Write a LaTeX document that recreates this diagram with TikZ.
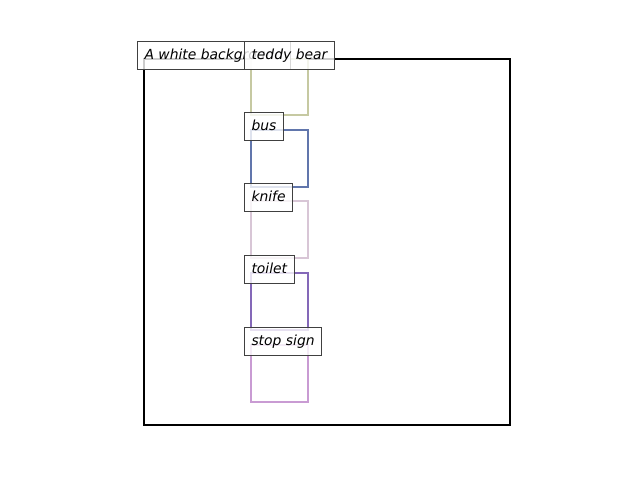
\documentclass[tikz,border=0pt]{standalone}
\usepackage{fontspec}
\setmainfont{DejaVu Sans}
\definecolor{teddycol}{HTML}{C6C9A2}
\definecolor{buscol}{HTML}{6176AC}
\definecolor{knifecol}{HTML}{D8C6D6}
\definecolor{toiletcol}{HTML}{8468B8}
\definecolor{stopcol}{HTML}{C99BD3}
\begin{document}
\begin{tikzpicture}[x=0.72pt, y=-0.72pt,
    lbl/.style={draw=black!75, line width=0.8pt, fill=white, fill opacity=0.8, text opacity=1,
      anchor=base west, inner xsep=5pt, inner ysep=5pt, text height=7.6pt, text depth=2.4pt,
      font=\itshape\fontsize{10}{12}\selectfont},
    obj/.style={line width=1.8pt}]
				\useasboundingbox (0,0) rectangle (640,480);
				\draw[line width=1.5pt] (144,59) rectangle (510,425);
				\draw[obj, teddycol] (251,59) rectangle (308,115);
				\draw[obj, buscol] (251,130) rectangle (308,187);
				\draw[obj, knifecol] (251,201) rectangle (308,258);
				\draw[obj, toiletcol] (251,273) rectangle (308,330);
				\draw[obj, stopcol] (251,345) rectangle (308,402);

				\node[lbl] (bg) at (137,59) {A white background};
				\node[lbl] (teddy) at (244,59) {teddy bear};
				\node[lbl] (bus) at (244,130) {bus};
				\node[lbl] (knife) at (244,201) {knife};
				\node[lbl] (toilet) at (244,273) {toilet};
				\node[lbl] (stop) at (244,345) {stop sign};
			\end{tikzpicture}
\end{document}
